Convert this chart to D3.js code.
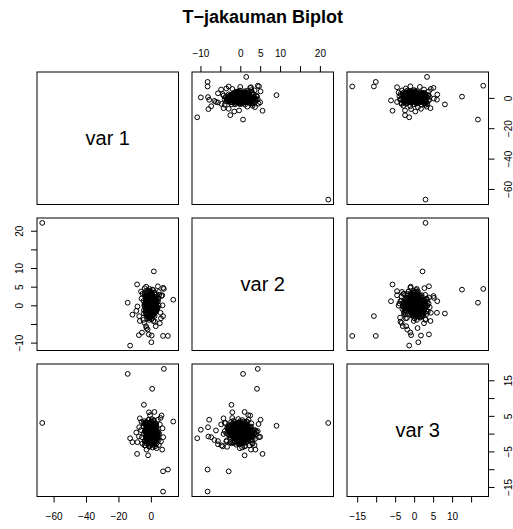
<!DOCTYPE html>
<html>
<head>
<meta charset="utf-8">
<script src="https://cdn.jsdelivr.net/npm/d3@7"></script>
<style>
  body { margin: 0; background: #fff; }
  text { font-family: "Liberation Sans", Arial, sans-serif; }
</style>
</head>
<body>
<div id="chart"></div>
<script>
const varNames = ['var 1', 'var 2', 'var 3'];

// one entry per observation: outliers first, then the dense core
const var1 = [
  -67.0, 8.0, -14.3, 0.8, 13.8, 1.8, -12.8, 7.5, 10.5, 7.5,
  0.3, -7.4, -4.3, -1.2, 6.6, -6.8, -1.3, 0.5, -2.7, -5.5,
  -11.4, -8.5, -8.3, -7.2, 7.0, -1.7, -2.7, -2.9, 4.3, -3.0,
  -1.0, 7.6, 7.2, 3.0, -2.0, -9.0, -6.1, 3.5, -0.5, 2.2,
  5.5, -5.2, 4.9, -4.6, 5.9, -3.8, 2.5, -5.8, 6.2, -4.0,
  0.4, -1.2, 2.3, -0.7, 1.8, -2.9, 0.1, 3.4, -1.6, 0.9,
  -0.3, 1.1, -2.2, 2.7, -0.9, 0.6, -3.8, 1.5, -0.1, 2.0,
  -1.4, 0.8, 3.9, -2.5, 0.2, -0.6, 1.3, -1.9, 4.2, -0.4,
  1.7, -3.1, 0.5, 2.4, -1.1, -0.2, 1.0, -2.7, 3.1, 0.3,
  -0.8, 2.9, -1.5, 0.0, 1.6, -4.1, 0.7, -1.0, 2.2, -2.0,
  1.2, -0.5, 3.6, -1.7, 0.9, -2.4, 1.9, -0.3, 0.4, 4.6,
  -1.3, 2.5, -0.1, -3.4, 1.4, 0.6, -0.9, 2.8, -2.1, 0.2,
  3.3, -1.8, 0.8, -0.6, 1.1, -2.6, 2.1, -0.2, -4.5, 1.5,
  0.3, -1.4, 2.6, -0.8, 1.8, -3.0, 0.5, 3.7, -1.2, -0.4,
  1.0, -2.3, 0.1, 2.4, -0.7, 1.3, -1.6, 3.0, -0.5, 0.7,
  -2.8, 1.6, -0.3, 4.0, -1.0, 0.9, 2.2, -3.6, 0.4, -1.5,
  1.9, -0.2, -2.2, 0.6, 3.2, -1.1, 0.0, 1.4, -2.9, 2.7,
  -0.6, 0.8, -1.7, 2.0, -0.4, 5.1, -1.3, 0.3, 1.7, -2.5,
  0.5, -3.3, 1.2, -0.9, 2.5, -0.1, -1.9, 0.9, 3.5, -0.7,
  -1.1, 1.8, -2.4, 0.2, 1.0, -0.5, 2.9, -1.4, 0.6, -3.9,
  2.3, -0.8, 0.4, -1.6, 1.5, -2.0, 0.1, 3.8, -1.2, 0.8,
  -0.2, 2.1, -3.2, 1.3, -0.6, 0.7, -1.8, 2.6, -0.3, 1.1,
  -2.6, 0.5, 1.9, -1.0, 4.4, -0.4, 0.2, -2.3, 1.6, -0.9,
  3.0, -1.5, 0.6, -0.1, 2.2, -3.5, 1.0, -0.7, 0.3, 1.7,
  -1.9, 2.8, -0.5, 0.9, -2.7, 1.4, 0.0, -1.3, 3.3, -0.6,
  0.7, -2.1, 1.5, -0.3, 2.0, -4.3, 0.8, -1.0, 2.4, 0.1,
  -1.6, 1.2, -0.8, 3.6, -2.2, 0.4, 1.8, -0.5, -3.0, 2.6,
  0.9, -1.1, 0.2, -2.4, 1.7, -0.2, 2.9, -1.7, 0.5, -0.9,
  4.8, -0.4, 1.1, -3.7, 0.6, -1.4, 2.3, 0.0, -2.0, 1.3,
  -0.7, 3.1, -1.2, 0.3, 1.9, -2.8, 0.8, -0.1, 2.1, -1.5,
  0.6, -0.9, 1.4, -1.8, 0.2, 2.1, -0.4, 1.0, -1.3, 0.8,
  -2.0, 0.3, 1.7, -0.6, 0.0, -1.1, 2.4, -0.2, 0.9, -1.5,
  1.2, -0.7, 0.4, 1.9, -2.3, 0.1, -0.5, 1.5, -1.0, 2.7,
  -0.3, 0.7, -1.6, 0.5, 1.1, -2.5, 0.9, -0.1, 1.6, -0.8,
  2.2, -1.2, 0.0, -0.4, 1.3, -1.9, 0.6, 2.0, -0.6, 0.2,
  -1.4, 1.8, -0.2, 0.8, -2.8, 1.0, -0.9, 0.3, 2.5, -0.5,
  0.4, -1.7, 1.2, -0.1, -1.0, 2.9, -0.3, 0.7, -2.1, 1.4,
  -0.8, 0.1, 1.9, -1.3, 0.5, -0.6, 2.3, -1.8, 0.0, 1.1,
  -2.4, 0.9, -0.2, 1.6, -1.1, 0.6, -0.7, 3.2, -1.5, 0.2,
  1.3, -0.4, -1.9, 0.8, 2.0, -1.0, 0.4, -3.1, 1.7, -0.3
];

const var2 = [
  22.1, 4.4, 0.7, 4.2, 1.5, 9.1, -10.8, -8.2, -8.2, -2.9,
  -9.9, -8.0, -2.2, -2.0, 2.5, -4.2, -7.8, -8.1, -6.1, -7.3,
  -2.5, 5.6, -0.3, -2.9, 2.7, 1.1, 3.8, 5.0, 5.1, -5.6,
  -3.3, 4.7, 0.0, -5.6, -6.5, -1.5, 3.7, -0.1, 2.0, 1.1,
  -4.8, 3.1, 3.6, -3.9, -2.0, 4.6, -4.4, 1.8, -3.5, -4.7,
  -0.9, 1.6, 0.3, -2.1, 0.8, 1.2, -0.4, -1.5, 2.4, 0.1,
  1.9, -0.6, -2.8, 0.5, 1.1, -1.2, 3.2, -0.2, 0.7, -1.8,
  0.2, 2.1, -1.0, -0.3, 3.6, 0.9, -2.4, 1.4, -0.7, 0.0,
  -1.4, 0.6, 2.7, -0.8, -3.3, 1.0, 0.4, -1.9, 1.7, -0.5,
  2.2, -1.1, 0.3, 1.5, -2.6, -0.1, 0.8, 3.9, -1.6, 0.5,
  -0.2, -2.2, 1.3, 0.7, -0.9, 2.6, -1.3, 0.1, -3.7, 1.8,
  0.9, -0.4, -1.7, 2.3, 0.2, -2.9, 1.1, -0.6, 0.6, 3.1,
  -1.2, 1.4, 0.0, -2.0, 2.0, -0.8, -1.5, 0.4, 1.2, -4.2,
  1.7, -0.3, 2.9, -1.1, 0.5, -2.5, 0.3, 1.0, -0.7, -1.9,
  0.6, 2.5, -1.4, 0.2, -3.0, 1.5, -0.1, -0.9, 2.0, 0.8,
  -2.3, 0.4, 1.6, -0.5, 0.9, -1.6, 3.4, -0.2, -1.0, 1.3,
  0.1, -2.7, 0.7, 2.2, -0.6, 1.1, -1.2, 4.1, 0.3, -1.8,
  -0.4, 1.8, -2.0, 0.5, -0.1, 2.8, -3.1, 0.8, 1.0, -0.9,
  2.4, -1.3, 0.2, -0.7, 1.4, -2.2, 0.6, -1.5, 3.0, 0.0,
  -0.8, 1.2, -3.5, 0.9, 2.1, -0.3, -1.1, 1.6, -0.5, 0.4,
  1.0, -1.8, 2.6, -0.2, -2.4, 0.7, 1.9, -0.6, 0.3, -1.4,
  3.5, 0.0, -1.0, 1.3, -0.4, -2.8, 0.8, 2.3, -1.7, 0.5,
  -0.6, 2.0, 0.2, -3.9, 1.1, -0.9, 0.6, 1.5, -2.1, 2.9,
  0.3, -1.5, 1.7, 0.1, -0.8, 2.5, -2.3, -0.1, 0.9, -1.2,
  1.8, -0.7, -2.6, 0.4, 3.3, -1.0, 0.0, 1.2, -0.3, -2.0,
  -1.6, 0.9, 2.2, -0.4, 0.7, -1.3, 1.4, -3.4, 0.2, 2.7,
  0.5, -2.1, 0.1, 1.9, -0.9, 0.3, -1.7, 2.4, -0.2, 1.0,
  -3.0, 1.3, -0.5, 0.6, 2.0, -1.1, 0.8, -2.5, 1.6, 4.4,
  -0.1, 0.7, -1.9, 2.8, -0.6, 1.4, -2.9, 0.2, 0.9, -1.0,
  1.1, -0.3, 3.7, -1.4, 0.4, -2.2, 1.5, 0.0, -0.7, 2.1,
  1.0, -0.5, -1.3, 0.7, 2.0, -0.2, 1.5, -2.2, 0.3, -0.8,
  0.6, 1.8, -1.0, -0.3, 2.4, 0.1, -1.6, 0.9, -0.4, 1.2,
  -2.5, 0.4, 1.1, -0.7, 0.0, -1.2, 2.8, -0.1, 0.8, -1.9,
  1.6, -0.6, 0.2, -2.8, 1.3, 0.5, -0.9, 2.2, -1.4, 0.0,
  -0.3, 1.0, -1.8, 0.6, -0.2, 2.6, -1.1, 0.3, 1.4, -0.7,
  2.1, -1.5, 0.5, -0.4, 1.7, -2.3, 0.9, -0.1, -1.0, 3.0,
  -0.6, 0.2, 1.9, -1.7, 0.7, -0.3, 1.2, -2.0, 0.1, 0.8,
  -1.3, 2.5, -0.5, 0.4, -2.6, 1.1, 0.0, -0.8, 1.5, -0.2,
  0.9, -1.1, 2.3, -0.4, 0.3, -1.9, 1.0, 0.6, -0.7, -2.1,
  0.2, 1.6, -0.9, -1.4, 0.5, 2.7, -0.1, 1.2, -1.6, 0.4
];

const var3 = [
  3.0, 18.2, 16.8, 12.6, 3.4, 2.2, -1.3, -16.3, -10.1, -10.6,
  1.1, -0.8, 8.1, 6.0, 5.1, 4.3, 3.9, 1.8, 0.9, -1.0,
  -2.4, -5.7, -2.4, 1.8, -4.5, -6.1, -4.5, -0.9, 3.9, -2.1,
  -3.7, -1.0, 1.5, -3.0, -1.8, 0.3, 1.0, -4.1, 5.2, 6.1,
  2.6, -2.8, -3.2, 3.0, 4.4, 2.7, -3.6, 3.3, -2.2, -3.3,
  0.7, -1.4, 2.0, 0.3, -0.8, 1.5, -2.3, 0.1, 1.1, -0.5,
  -1.9, 0.9, 0.4, -0.2, 2.6, -1.1, 0.6, -3.0, 1.3, 0.0,
  1.8, -0.6, -1.5, 3.1, 0.2, -2.1, 0.8, -0.3, -1.0, 2.3,
  0.5, 1.2, -0.9, -2.6, 1.6, 0.0, -0.4, 2.8, -1.3, 0.9,
  -0.7, 2.2, 0.3, -1.7, 0.6, 3.5, -1.2, -0.1, 1.0, -2.4,
  1.4, -0.3, -2.0, 0.8, 2.4, -0.9, 0.1, -1.6, 3.0, 0.4,
  -1.1, 0.6, 1.7, -3.3, -0.2, 1.1, -0.6, 2.1, 0.3, -1.8,
  2.7, -0.8, 0.0, 1.3, -1.4, 0.5, -2.2, 0.9, 1.9, -0.1,
  0.2, -2.8, 1.0, -0.5, 3.8, -1.0, 0.7, -0.3, -1.6, 1.5,
  -0.4, 1.8, -1.2, 0.4, 0.9, -2.5, 2.0, -0.7, 0.1, 1.2,
  3.3, -0.2, -1.4, 0.6, -0.9, 1.6, 0.0, -2.0, 2.5, -0.6,
  -1.5, 0.8, 2.9, -0.1, 0.3, -3.6, 1.1, 0.5, -0.8, 1.9,
  0.6, -1.2, -0.4, 2.2, -2.3, 0.0, 1.4, -0.9, 0.7, -1.7,
  -0.3, 2.6, 0.9, -1.8, 0.2, 1.0, -0.6, 3.2, -2.7, 0.4,
  1.6, -1.0, 0.1, -0.5, 2.0, -1.5, 0.8, -0.2, 4.1, -2.1,
  -0.8, 0.3, 1.3, -2.9, 0.6, 2.3, -1.1, 0.0, -0.4, 1.7,
  0.9, -2.0, -0.7, 1.2, 3.0, -0.3, 0.5, -1.3, 1.8, -3.9,
  2.1, 0.2, -1.6, 0.7, -0.5, 1.4, -2.4, 2.6, 0.0, -0.9,
  -1.3, 1.0, 0.4, -0.2, -2.2, 0.8, 1.9, -0.6, 3.4, -1.1,
  0.3, -1.7, 2.4, 0.1, -0.8, -3.1, 1.2, 0.6, -0.4, 1.5,
  -2.6, 0.5, 1.1, -1.0, 2.8, -0.1, 0.0, -1.9, 0.9, 2.0,
  0.6, -0.5, -2.3, 1.6, 0.2, -1.4, 3.6, -0.7, 1.3, -0.2,
  1.9, -3.4, 0.4, -0.8, 1.0, 0.0, -1.2, 2.2, -0.3, 0.7,
  -1.8, 1.5, -0.6, 2.9, -2.0, 0.3, 0.8, -1.1, 1.7, -0.4,
  0.1, 2.4, -1.5, -0.3, 1.2, -2.7, 0.5, 1.0, -0.9, 3.9,
  -0.4, 1.1, 0.6, -1.5, 0.2, 1.8, -0.8, 0.0, 2.3, -1.2,
  0.9, -0.3, 1.4, -2.0, 0.5, 2.6, -0.6, 1.0, -1.4, 0.1,
  0.3, -1.8, 2.0, 0.7, -0.2, 1.2, -0.9, -2.4, 0.4, 1.6,
  -1.1, 0.8, 2.5, -0.5, -1.6, 0.0, 1.3, -0.3, 0.9, -2.2,
  1.9, 0.2, -1.0, 0.6, 2.8, -0.7, 0.1, -1.3, 1.5, 0.4,
  -0.1, 2.1, -1.9, 0.3, 1.0, -0.6, -2.7, 1.7, 0.5, -0.4,
  1.2, -1.2, 0.0, 2.4, -0.8, 0.7, -1.5, 0.2, 3.0, -0.9,
  0.6, -0.2, 1.8, -2.1, 0.4, 1.1, -0.5, -1.0, 2.2, 0.0,
  -1.7, 0.9, 0.3, -0.4, 1.6, -2.5, 0.8, 1.4, -0.3, 0.5,
  2.0, -1.1, 0.1, 1.3, -0.7, -1.8, 2.6, 0.4, -0.2, 1.0
];

const var1Ticks = [-60, -40, -20, 0];
const var2Ticks = [-10, -5, 0, 5, 10, 15, 20];
const var3Ticks = [-15, -10, -5, 0, 5, 10, 15];
const var1Labels = [-60, -40, -20, 0];
const var2Labels = [-10, 0, 5, 10, 20];
const var3BottomLabels = [-15, -5, 0, 5, 10];
const var3RightLabels = [-15, -5, 5, 15];

const w = 513;
const h = 529;
const panelW = 141.5;
const panelH = 132.5;
const panelLeft = 37;
const panelTop = 72;
const gap = 13.5;

const data = [var1, var2, var3];
const n = var1.length;

const x0 = (j) => panelLeft + j * (panelW + gap);
const y0 = (i) => panelTop + i * (panelH + gap);

// R pairs: each variable's range padded by 4% each side
const padded = (v) => {
  const [a, b] = d3.extent(v);
  const p = (b - a) * 0.04;
  return [a - p, b + p];
};

const xScales = data.map((v, j) => d3.scaleLinear()
  .domain(padded(v))
  .range([x0(j), x0(j) + panelW]));

const yScales = data.map((v, i) => d3.scaleLinear()
  .domain(padded(v))
  .range([y0(i) + panelH, y0(i)]));

const fmt = d3.format('d');
const labelFormat = (labels) => (d) => labels.includes(d) ? fmt(d) : '';

const svg = d3.select('#chart')
  .append('svg')
  .attr('width', w)
  .attr('height', h);

svg.append('text')
  .attr('x', x0(0) + (3 * panelW + 2 * gap) / 2)
  .attr('y', 23)
  .attr('text-anchor', 'middle')
  .style('font-size', '18px')
  .style('font-weight', 'bold')
  .text('T\u2212jakauman Biplot');

for (let i = 0; i < 3; i++) {
  for (let j = 0; j < 3; j++) {
    const g = svg.append('g');

    if (i === j) {
      g.append('text')
        .attr('x', x0(j) + panelW / 2)
        .attr('y', y0(i) + panelH / 2 + 7)
        .attr('text-anchor', 'middle')
        .style('font-size', '20px')
        .text(varNames[i]);
    } else {
      g.selectAll('circle')
        .data(d3.range(n))
        .enter()
        .append('circle')
        .attr('cx', (k) => xScales[j](data[j][k]))
        .attr('cy', (k) => yScales[i](data[i][k]))
        .attr('r', 2.4)
        .attr('fill', 'none')
        .attr('stroke', '#000')
        .attr('stroke-width', 1);
    }

    g.append('rect')
      .attr('x', x0(j))
      .attr('y', y0(i))
      .attr('width', panelW)
      .attr('height', panelH)
      .attr('fill', 'none')
      .attr('stroke', '#000')
      .attr('stroke-width', 1);
  }
}

function tidy(g) {
  g.select('.domain').remove();
  g.selectAll('line').attr('stroke', '#000');
  g.selectAll('text').attr('fill', '#000').style('font-size', '10px');
}

// top axis, column 2
svg.append('g')
  .attr('transform', `translate(0,${y0(0)})`)
  .call(d3.axisTop(xScales[1]).tickValues(var2Ticks).tickSize(6).tickPadding(9)
    .tickFormat(labelFormat(var2Labels)))
  .call(tidy);

// bottom axes, columns 1 and 3
svg.append('g')
  .attr('transform', `translate(0,${y0(2) + panelH})`)
  .call(d3.axisBottom(xScales[0]).tickValues(var1Ticks).tickSize(6).tickPadding(10)
    .tickFormat(labelFormat(var1Labels)))
  .call(tidy);

svg.append('g')
  .attr('transform', `translate(0,${y0(2) + panelH})`)
  .call(d3.axisBottom(xScales[2]).tickValues(var3Ticks).tickSize(6).tickPadding(10)
    .tickFormat(labelFormat(var3BottomLabels)))
  .call(tidy);

// vertical axes with labels parallel to the axis
function rotateLabels(g, off) {
  g.selectAll('text')
    .attr('x', null)
    .attr('dy', '0.35em')
    .attr('text-anchor', 'middle')
    .attr('transform', `translate(${off},0) rotate(-90)`);
}

svg.append('g')
  .attr('transform', `translate(${x0(0)},0)`)
  .call(d3.axisLeft(yScales[1]).tickValues(var2Ticks).tickSize(6)
    .tickFormat(labelFormat(var2Labels)))
  .call(tidy)
  .call((g) => rotateLabels(g, -18));

svg.append('g')
  .attr('transform', `translate(${x0(2) + panelW},0)`)
  .call(d3.axisRight(yScales[0]).tickValues(var1Ticks).tickSize(6)
    .tickFormat(labelFormat(var1Labels)))
  .call(tidy)
  .call((g) => rotateLabels(g, 19.5));

svg.append('g')
  .attr('transform', `translate(${x0(2) + panelW},0)`)
  .call(d3.axisRight(yScales[2]).tickValues(var3Ticks).tickSize(6)
    .tickFormat(labelFormat(var3RightLabels)))
  .call(tidy)
  .call((g) => rotateLabels(g, 19.5));
</script>
</body>
</html>
